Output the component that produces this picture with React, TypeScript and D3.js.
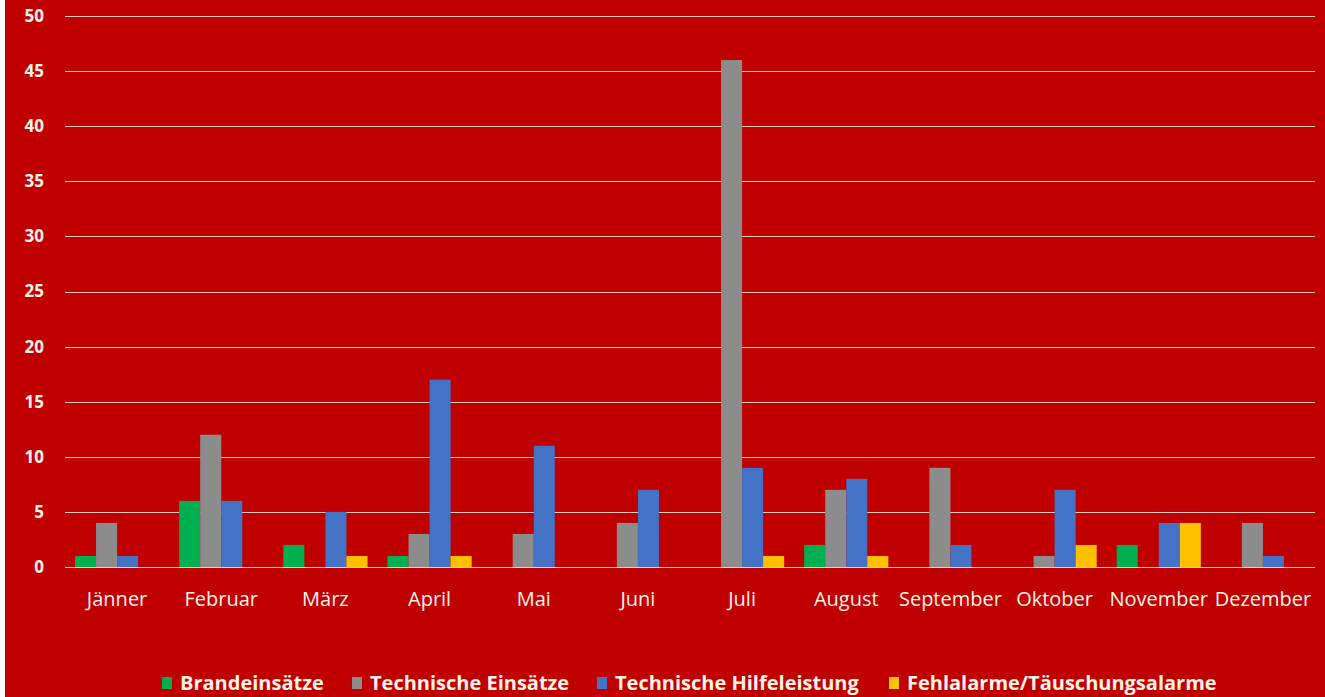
import * as d3 from "d3"

const MONTHS = [
  "Jänner",
  "Februar",
  "März",
  "April",
  "Mai",
  "Juni",
  "Juli",
  "August",
  "September",
  "Oktober",
  "November",
  "Dezember",
]

const SERIES_NAMES = [
  "Brandeinsätze",
  "Technische Einsätze",
  "Technische Hilfeleistung",
  "Fehlalarme/Täuschungsalarme",
]

const BRAND = [1, 6, 2, 1, 0, 0, 0, 2, 0, 0, 2, 0]
const TECH_EINSAETZE = [4, 12, 0, 3, 3, 4, 46, 7, 9, 1, 0, 4]
const TECH_HILFE = [1, 6, 5, 17, 11, 7, 9, 8, 2, 7, 4, 1]
const FEHLALARME = [0, 0, 1, 1, 0, 0, 1, 1, 0, 2, 4, 0]

const Y_TICKS = [0, 5, 10, 15, 20, 25, 30, 35, 40, 45, 50]

const COLORS = ["#00b050", "#8c8c8c", "#4472c4", "#ffc000"]

const WIDTH = 1325
const HEIGHT = 697
const BG = "#c00000"
const TEXT = "#fff3e8"
const FONT = "'Open Sans', sans-serif"

// plot area
const LEFT = 65
const RIGHT = 1315
const TOP = 16
const BOTTOM = 567

// legend item x positions (marker left edge)
const LEGEND_X = [162, 352, 597, 889]

export default function App() {
  const seriesValues = [BRAND, TECH_EINSAETZE, TECH_HILFE, FEHLALARME]

  const x0 = d3.scaleBand<string>().domain(MONTHS).range([LEFT, RIGHT]).paddingInner(0).paddingOuter(0)
  const groupPad = 10
  const x1 = d3
    .scaleBand<number>()
    .domain(d3.range(SERIES_NAMES.length))
    .range([groupPad, x0.bandwidth() - groupPad])
    .padding(0)
  const y = d3.scaleLinear().domain([0, 50]).range([BOTTOM, TOP])

  return (
    <>
      <style>{`body{margin:0;background:#fff}`}</style>
      <svg width={WIDTH} height={HEIGHT} style={{ display: "block" }} fontFamily={FONT}>
        <rect x={5} y={0} width={WIDTH - 5} height={HEIGHT} fill={BG} />

        {/* gridlines */}
        {Y_TICKS.map((t) => (
          <line
            key={t}
            x1={LEFT}
            x2={RIGHT}
            y1={Math.round(y(t)) + 0.5}
            y2={Math.round(y(t)) + 0.5}
            stroke="#f0c9bf"
            strokeWidth={1}
          />
        ))}

        {/* y labels */}
        {Y_TICKS.map((t) => (
          <text
            key={t}
            x={44}
            y={y(t)}
            dy="0.35em"
            textAnchor="end"
            fill={TEXT}
            fontSize={17}
            fontWeight={700}
          >
            {t}
          </text>
        ))}

        {/* bars */}
        {MONTHS.map((m, i) => (
          <g key={m} transform={`translate(${x0(m)},0)`}>
            {seriesValues.map((vals, s) =>
              vals[i] > 0 ? (
                <rect
                  key={s}
                  x={x1(s)}
                  y={y(vals[i])}
                  width={x1.bandwidth()}
                  height={y(0) - y(vals[i])}
                  fill={COLORS[s]}
                />
              ) : null
            )}
          </g>
        ))}

        {/* x labels */}
        {MONTHS.map((m) => (
          <text
            key={m}
            x={(x0(m) ?? 0) + x0.bandwidth() / 2}
            y={606}
            textAnchor="middle"
            fill={TEXT}
            fontSize={20}
          >
            {m}
          </text>
        ))}

        {/* legend */}
        {SERIES_NAMES.map((name, s) => (
          <g key={name} transform={`translate(${LEGEND_X[s]},677)`}>
            <rect x={0} y={0} width={10} height={12} fill={COLORS[s]} />
            <text x={18} y={13} fill={TEXT} fontSize={20} fontWeight={700}>
              {name}
            </text>
          </g>
        ))}
      </svg>
    </>
  )
}
